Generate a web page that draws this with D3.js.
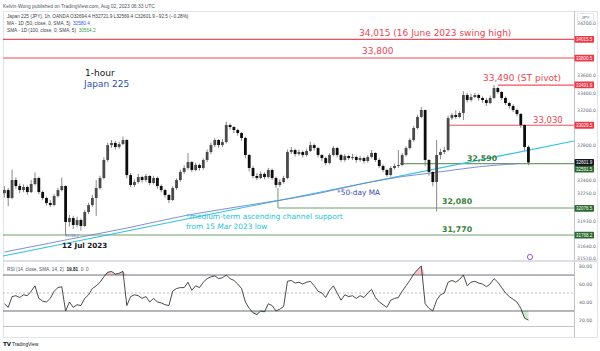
<!DOCTYPE html>
<html>
<head>
<meta charset="utf-8">
<script src="https://d3js.org/d3.v7.min.js"></script>
<style>
  body { margin: 0; background: #fff; }
  svg { display: block; }
  text { font-family: "DejaVu Sans", sans-serif; }
  .ui { font-family: "Liberation Sans", Arial, sans-serif; }
</style>
</head>
<body>
<script>
// 3-hour bars, Jul 10 -> Aug 2 2023 (8 bars per trading day)
const firstOpen = 32250;
const closes = [
  32286,32195,32401,32332,32286,32321,32263,32355,
  32424,32263,32195,32137,32114,32217,32286,32332,
  31919,31965,31885,31942,31874,32034,32114,32195,
  32309,32424,32631,32802,32826,32780,32814,32860,
  32458,32344,32378,32435,32401,32447,32367,32424,
  32332,32286,32229,32172,32309,32401,32494,32539,
  32607,32516,32573,32539,32631,32722,32802,32860,
  32802,32837,33032,33009,32975,32940,32883,32688,
  32539,32447,32424,32471,32435,32516,32424,32344,
  32378,32424,32722,32745,32699,32722,32688,32734,
  32802,32768,32688,32653,32596,32688,32768,32688,
  32631,32676,32653,32665,32631,32653,32619,32665,
  32711,32631,32562,32516,32458,32539,32562,32573,
  32688,32768,32860,32998,33124,33204,32631,32494,
  32378,32688,32722,32745,33112,33147,33124,33170,
  33376,33319,33353,33376,33342,33319,33284,33342,
  33456,33411,33342,33284,33250,33204,33158,33032,
  32780,32602
];
const highs = [
  32330,32310,32520,32430,32360,32350,32340,32400,
  32490,32440,32280,32210,32170,32240,32310,32430,
  32340,32000,31990,31980,31960,32060,32140,32230,
  32400,32450,32660,32830,32860,32850,32840,32900,
  32870,32480,32410,32470,32450,32470,32460,32450,
  32440,32350,32300,32240,32330,32420,32520,32570,
  32711,32620,32600,32590,32650,32750,32830,32880,
  32870,32870,33070,33050,33020,32990,32950,32900,
  32700,32560,32480,32500,32490,32540,32530,32440,
  32410,32450,32750,32780,32760,32750,32740,32760,
  32840,32820,32780,32700,32670,32710,32791,32780,
  32700,32700,32690,32700,32680,32680,32670,32690,
  32745,32720,32650,32580,32530,32560,32590,32745,
  32710,32790,32880,33020,33150,33240,33210,32640,
  32500,32860,32760,32780,33140,33170,33200,33190,
  33420,33400,33390,33400,33390,33360,33340,33370,
  33492,33470,33420,33360,33300,33270,33220,33170,
  33040,32800
];
const lows = [
  32200,32100,32180,32300,32250,32260,32230,32250,
  32340,32240,32170,32110,32090,32100,32200,32270,
  31768,31870,31840,31860,31820,31860,32010,32090,
  31990,32290,32410,32610,32770,32750,32760,32800,
  32420,32320,32320,32360,32370,32380,32340,32350,
  32300,32260,32200,32137,32160,32290,32380,32470,
  32520,32490,32500,32510,32520,32610,32700,32780,
  32770,32780,32820,32980,32940,32910,32850,32650,
  32500,32420,32400,32410,32410,32420,32400,32309,
  32320,32360,32410,32700,32670,32680,32660,32670,
  32720,32740,32660,32620,32570,32580,32670,32660,
  32610,32610,32630,32630,32600,32610,32590,32600,
  32650,32610,32540,32490,32440,32440,32520,32540,
  32560,32670,32750,32840,32980,33110,32560,32450,
  32330,32040,32640,32700,32730,33090,33100,33110,
  33089,33290,33300,33340,33310,33290,33250,33270,
  33330,33390,33320,33260,33220,33180,33130,33000,
  32740,32569
];
const rsi = [
  38,34,46,47,45,48,47,52,
  58,44,41,40,44,52,56,57,
  30,40,34,37,36,44,48,55,
  58,62,68,73,74,71,72,74,
  36,46,48,47,44,46,40,44,
  40,39,37,36,52,55,56,56,
  62,53,58,56,62,66,68,69,
  66,67,70,66,64,60,55,40,
  33,28,26,30,29,38,36,30,
  32,35,63,64,61,62,60,62,
  63,58,52,50,45,53,58,50,
  42,48,46,47,44,47,45,50,
  54,45,40,37,34,42,44,45,
  52,58,64,71,76,80,38,33,
  30,42,48,50,62,64,62,65,
  70,58,62,63,61,60,57,60,
  66,62,56,50,46,43,40,33,
  22,19.81
];

// 50-day MA (daily) sampled at trading-day index
const maDays = [0, 2, 4, 6, 8, 10, 12, 13, 14, 16, 16.8];
const maVals = [31575, 31713, 31850, 31999, 32114, 32229, 32380, 32440, 32484, 32570, 32588];

// medium-term ascending channel support (day index, price)
const channelPts = [[-0.05, 31529], [18.61, 32848]];

// horizontal levels
const resLevels = [34015, 33800, 33490, 33030];
const resStart = [-0.05, -0.05, 16.13, 14.5];
const supLevels = [32590, 32080, 31770];
const supStart = [12.93, 8.94, -0.05];

// axes
const dayLabels = ["10","11","12","13","14","17","18","19","20","21","24","25","26","27","28","31","Aug","2","3"];
const priceTicks = [34200, 33600, 33400, 33200, 32800, 32400, 32250, 31930, 31640, 31510];
const rsiTicks = [80, 60, 40, 20];

const tagVals = [34015.5, 33800.5, 33491.9, 33029.5, 32601.9, 32591.5, 32076.5, 31768.2];
const tagColors = ["#f23645","#f23645","#f23645","#f23645","#131722","#2b6a2e","#2b6a2e","#2b6a2e"];

// ---------------------------------------------------------------
const W = 600, H = 351;
const pLeft = 3, pRight = 574, pTop = 11, priceBottom = 261, rsiBottom = 326;

const svg = d3.select("body").append("svg")
    .attr("width", W)
    .attr("height", H);

const x = d3.scaleLinear().domain([0, 18]).range([4.4, 555.2]);
const y = d3.scaleLinear().domain([31472, 34340]).range([priceBottom, pTop]);
const yr = d3.scaleLinear().domain([13.3, 85.6]).range([rsiBottom, priceBottom]);

const defs = svg.append("defs");
defs.append("clipPath").attr("id", "clipPrice").append("rect")
    .attr("x", pLeft).attr("y", pTop).attr("width", pRight - pLeft).attr("height", priceBottom - pTop);
defs.append("clipPath").attr("id", "clipRsi").append("rect")
    .attr("x", pLeft).attr("y", priceBottom).attr("width", pRight - pLeft).attr("height", rsiBottom - priceBottom);
defs.append("clipPath").attr("id", "clipTime").append("rect")
    .attr("x", pLeft + 0.5).attr("y", rsiBottom).attr("width", pRight - pLeft).attr("height", 12);

// frame
svg.append("rect").attr("x", 3.5).attr("y", 11.5).attr("width", 594).attr("height", 326)
    .attr("fill", "none").attr("stroke", "#e0e3eb");
svg.append("line").attr("x1", pRight + 0.5).attr("x2", pRight + 0.5).attr("y1", 11).attr("y2", 337)
    .attr("stroke", "#b2b5be").attr("stroke-width", 0.8);
svg.append("line").attr("x1", pLeft).attr("x2", 597).attr("y1", priceBottom).attr("y2", priceBottom)
    .attr("stroke", "#d1d4dc").attr("stroke-width", 1.5);
svg.append("line").attr("x1", pLeft).attr("x2", pRight).attr("y1", rsiBottom + 0.5).attr("y2", rsiBottom + 0.5)
    .attr("stroke", "#b2b5be").attr("stroke-width", 0.8);

// header + legend
svg.append("text").attr("class", "ui").attr("x", 3).attr("y", 7.5)
    .attr("font-size", 4.9).attr("fill", "#50535e")
    .text("Kelvin-Wong published on TradingView.com, Aug 02, 2023 06:33 UTC");
svg.append("text").attr("class", "ui").attr("x", 7).attr("y", 18.4)
    .attr("font-size", 4.7).attr("fill", "#3a3d46")
    .text("Japan 225 (JPY), 1h, OANDA  O32694.4  H32721.9  L32569.4  C32601.9  \u221292.5 (\u22120.28%)");
const l2 = svg.append("text").attr("class", "ui").attr("x", 7).attr("y", 25)
    .attr("font-size", 4.7).attr("fill", "#3a3d46");
l2.append("tspan").text("MA - 1D (50, close, 0, SMA, 5)\u00a0\u00a0");
l2.append("tspan").attr("fill", "#2962ff").text("32580.4");
const l3 = svg.append("text").attr("class", "ui").attr("x", 7).attr("y", 32.2)
    .attr("font-size", 4.7).attr("fill", "#3a3d46");
l3.append("tspan").text("SMA - 1D (100, close, 0, SMA, 5)\u00a0\u00a0");
l3.append("tspan").attr("fill", "#43a047").text("30564.2");

// JPY box
svg.append("rect").attr("x", 577.5).attr("y", 13.5).attr("width", 16).attr("height", 7.5)
    .attr("fill", "#fff").attr("stroke", "#e0e3eb").attr("rx", 1);
svg.append("text").attr("class", "ui").attr("x", 585.5).attr("y", 19)
    .attr("font-size", 4.3).attr("text-anchor", "middle").attr("fill", "#50535e").text("JPY");

// ---------------- price panel ----------------
const pg = svg.append("g").attr("clip-path", "url(#clipPrice)");

// resistance levels
resLevels.forEach((v, i) => {
    pg.append("line")
        .attr("x1", x(resStart[i])).attr("x2", pRight)
        .attr("y1", y(v)).attr("y2", y(v))
        .attr("stroke", i === 1 ? "#f7a3aa" : "#f0505d")
        .attr("stroke-width", i === 1 ? 2 : 1.1);
});

// support levels
supLevels.forEach((v, i) => {
    pg.append("line")
        .attr("x1", x(supStart[i])).attr("x2", pRight)
        .attr("y1", y(v)).attr("y2", y(v))
        .attr("stroke", "#6f9f70").attr("stroke-width", 1.2);
});
// bracket from the Jul 20 low down to 32,080
pg.append("line")
    .attr("x1", x(supStart[1])).attr("x2", x(supStart[1]))
    .attr("y1", y(lows[71])).attr("y2", y(supLevels[1]))
    .attr("stroke", "#6f9f70").attr("stroke-width", 1);

// channel support
pg.append("path")
    .datum(channelPts)
    .attr("fill", "none").attr("stroke", "#2fc3dd").attr("stroke-width", 1.1)
    .attr("d", d3.line().x(d => x(d[0])).y(d => y(d[1])));

// 50-day MA
pg.append("path")
    .datum(maDays.map((d, i) => [d, maVals[i]]))
    .attr("fill", "none").attr("stroke", "#7480d2").attr("stroke-width", 0.9)
    .attr("d", d3.line().x(d => x(d[0])).y(d => y(d[1])).curve(d3.curveMonotoneX));

// candles
const bars = closes.map((c, i) => ({
    d: i / 8,
    o: i === 0 ? firstOpen : closes[i - 1],
    h: highs[i], l: lows[i], c: c
}));
pg.selectAll(".wick").data(bars).join("line")
    .attr("class", "wick")
    .attr("x1", d => x(d.d)).attr("x2", d => x(d.d))
    .attr("y1", d => y(d.h)).attr("y2", d => y(d.l))
    .attr("stroke", "#7a7a7a").attr("stroke-width", 0.9);
pg.selectAll(".body").data(bars).join("rect")
    .attr("class", "body")
    .attr("x", d => x(d.d) - 1.4).attr("width", 2.8)
    .attr("y", d => y(Math.max(d.o, d.c)))
    .attr("height", d => Math.max(1, Math.abs(y(d.o) - y(d.c))))
    .attr("fill", d => d.c >= d.o ? "#4a4a4a" : "#0d0d0d");

// low marker
svg.append("text").attr("class", "ui").attr("x", x(bars[16].d) - 0.5).attr("y", y(lows[16]) + 1.6)
    .attr("font-size", 3.8).attr("fill", "#5b67b5").text("31768.2");

// annotations
const red = "#ee4453", green = "#3b7f3c";
svg.append("text").attr("x", 359).attr("y", y(resLevels[0]) - 3.4)
    .attr("font-size", 9).attr("fill", red).text("34,015 (16 June 2023 swing high)");
svg.append("text").attr("x", 362).attr("y", y(resLevels[1]) - 4)
    .attr("font-size", 9).attr("fill", red).text("33,800");
svg.append("text").attr("x", 483).attr("y", y(resLevels[2]) - 4)
    .attr("font-size", 9).attr("fill", red).text("33,490 (ST pivot)");
svg.append("text").attr("x", 533).attr("y", y(resLevels[3]) - 2.5)
    .attr("font-size", 8.5).attr("fill", red).text("33,030");
svg.append("text").attr("x", 467).attr("y", y(supLevels[0]) - 2.5)
    .attr("font-size", 7.8).attr("font-weight", "bold").attr("fill", green).text("32,590");
svg.append("text").attr("x", 442).attr("y", y(supLevels[1]) - 4.5)
    .attr("font-size", 7.8).attr("font-weight", "bold").attr("fill", green).text("32,080");
svg.append("text").attr("x", 442).attr("y", y(supLevels[2]) - 3.5)
    .attr("font-size", 7.8).attr("font-weight", "bold").attr("fill", green).text("31,770");

svg.append("text").attr("x", 85).attr("y", 75.5)
    .attr("font-size", 9).attr("fill", "#131722").text("1-hour");
svg.append("text").attr("x", 84).attr("y", 86.8)
    .attr("font-size", 9).attr("fill", "#2b4fb2").text("Japan 225");
svg.append("text").attr("x", 337).attr("y", 194.6)
    .attr("font-size", 7.4).attr("fill", "#3d4fae").text("*50-day MA");
svg.append("text").attr("x", 186).attr("y", 219.2)
    .attr("font-size", 7.4).attr("fill", "#27bfdb").text("*medium-term ascending channel support");
const ft = svg.append("text").attr("x", 186).attr("y", 228.6)
    .attr("font-size", 7.4).attr("fill", "#27bfdb");
ft.append("tspan").text("from 15\u00a0");
ft.append("tspan").attr("font-style", "italic").text("Mar");
ft.append("tspan").text("\u00a02023 low");
svg.append("text").attr("x", 62).attr("y", 248)
    .attr("font-size", 7.2).attr("font-weight", "bold").attr("fill", "#131722").text("12 Jul 2023");

// event icon
svg.append("circle").attr("cx", 530).attr("cy", 257).attr("r", 2.6)
    .attr("fill", "#fff").attr("stroke", "#9c3fc4").attr("stroke-width", 0.9);

// price axis
const pAxis = svg.append("g").attr("class", "ui")
    .attr("transform", `translate(${pRight},0)`)
    .call(d3.axisRight(y).tickValues(priceTicks).tickSize(0).tickPadding(3)
        .tickFormat(d3.format(".1f")));
pAxis.select(".domain").remove();
pAxis.selectAll("text").attr("font-size", 4.6).attr("fill", "#6a6d78")
    .attr("font-family", "Liberation Sans, Arial, sans-serif");

// price tags
let prevY = -100;
tagVals.forEach((v, i) => {
    let ty = y(v);
    if (ty - prevY < 6.6) ty = prevY + 6.6;
    prevY = ty;
    svg.append("rect").attr("x", pRight + 0.5).attr("y", ty - 3.4)
        .attr("width", 19.5).attr("height", 6.8).attr("rx", 0.8)
        .attr("fill", tagColors[i]);
    svg.append("text").attr("class", "ui").attr("x", pRight + 10.2).attr("y", ty + 1.6)
        .attr("font-size", 4.5).attr("text-anchor", "middle").attr("fill", "#fff")
        .text(d3.format(".1f")(v));
});

// ---------------- RSI panel ----------------
const rg = svg.append("g").attr("clip-path", "url(#clipRsi)");
const rsiPts = rsi.map((v, i) => [i / 8, v]);

rg.append("path").datum(rsiPts)
    .attr("fill", "rgba(242,54,69,0.28)")
    .attr("d", d3.area().x(d => x(d[0])).y0(yr(70)).y1(d => yr(Math.max(70, d[1]))));
rg.append("path").datum(rsiPts)
    .attr("fill", "rgba(76,175,80,0.28)")
    .attr("d", d3.area().x(d => x(d[0])).y0(yr(30)).y1(d => yr(Math.min(30, d[1]))));

[70, 30].forEach(v => {
    rg.append("line").attr("x1", pLeft).attr("x2", pRight).attr("y1", yr(v)).attr("y2", yr(v))
        .attr("stroke", "#6b6e78").attr("stroke-width", 1);
});
rg.append("line").attr("x1", pLeft).attr("x2", pRight).attr("y1", yr(50)).attr("y2", yr(50))
    .attr("stroke", "#a3a6af").attr("stroke-width", 0.7).attr("stroke-dasharray", "2,2");

rg.append("path").datum(rsiPts)
    .attr("fill", "none").attr("stroke", "#1e1e1e").attr("stroke-width", 0.8)
    .attr("d", d3.line().x(d => x(d[0])).y(d => yr(d[1])));

const rl = svg.append("text").attr("class", "ui").attr("x", 7).attr("y", 270.6)
    .attr("font-size", 4.7).attr("fill", "#50535e");
rl.append("tspan").text("RSI (14, close, SMA, 14, 2)\u00a0\u00a0");
rl.append("tspan").attr("fill", "#131722").attr("font-weight", "bold").text("19.81");
rl.append("tspan").text("\u00a0\u00a00\u00a0\u00a00");

const rAxis = svg.append("g").attr("class", "ui")
    .attr("transform", `translate(${pRight},0)`)
    .call(d3.axisRight(yr).tickValues(rsiTicks).tickSize(0).tickPadding(5)
        .tickFormat(d3.format(".2f")));
rAxis.select(".domain").remove();
rAxis.selectAll("text").attr("font-size", 4.6).attr("fill", "#6a6d78")
    .attr("font-family", "Liberation Sans, Arial, sans-serif");

// time axis
const tAxis = svg.append("g").attr("clip-path", "url(#clipTime)")
    .attr("transform", `translate(0,${rsiBottom})`)
    .call(d3.axisBottom(x).tickValues(d3.range(dayLabels.length)).tickSize(0).tickPadding(5)
        .tickFormat(i => dayLabels[i]));
tAxis.select(".domain").remove();
tAxis.selectAll("text").attr("font-size", 4.7).attr("fill", "#50535e")
    .attr("font-family", "Liberation Sans, Arial, sans-serif");

// TradingView footer
svg.append("text").attr("x", 3).attr("y", 346).attr("font-size", 5.6).attr("font-weight", "bold")
    .attr("fill", "#131722").text("TV");
svg.append("text").attr("class", "ui").attr("x", 12).attr("y", 345.8).attr("font-size", 4.8)
    .attr("fill", "#131722").text("TradingView");
</script>
</body>
</html>
